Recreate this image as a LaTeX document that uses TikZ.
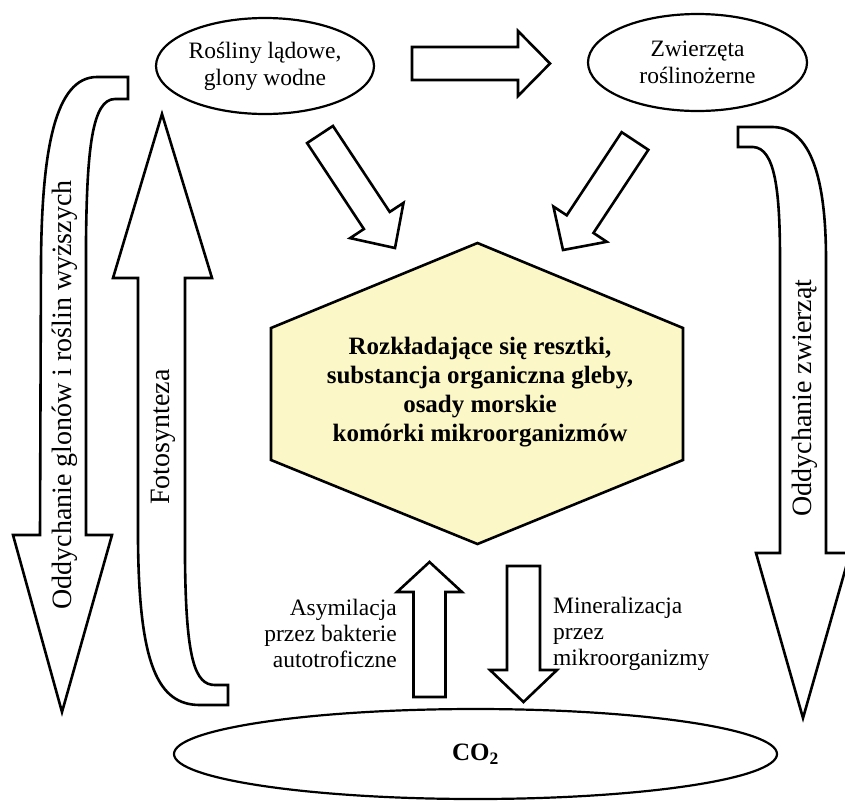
\documentclass[tikz,border=0pt]{standalone}
\usepackage{fontspec}
\setmainfont{Liberation Serif}
\usetikzlibrary{shapes.geometric,calc}

\definecolor{hexfill}{RGB}{251,247,199}

% tail, tip, half shaft, half head, head length
\newcommand{\fatarrow}[5]{%
  \coordinate (fa-base) at ($(#2)!#5!(#1)$);
  \draw[fat] ($(#1)!#3!90:(#2)$) -- ($(fa-base)!#3!90:(#2)$)
    -- ($(fa-base)!#4!90:(#2)$) -- (#2)
    -- ($(fa-base)!#4!-90:(#2)$) -- ($(fa-base)!#3!-90:(#2)$)
    -- ($(#1)!#3!-90:(#2)$) -- cycle;}

\begin{document}
\begin{tikzpicture}[x=1pt,y=-1pt,
    fat/.style={draw=black,fill=white,line width=2.6pt,line join=miter},
    oval/.style={ellipse,draw=black,line width=2.2pt,align=center,inner sep=0pt,
      font=\fontsize{23.5}{27}\selectfont},
    side/.style={rotate=90,inner sep=0pt,font=\fontsize{28}{32}\selectfont},
    small/.style={inner sep=0pt,font=\fontsize{23.5}{26}\selectfont}]
    \useasboundingbox (0,0) rectangle (845,801);

    \node[oval,minimum width=218,minimum height=96] (plants) at (265,66)
        {Rośliny lądowe,\\glony wodne};
    \node[oval,minimum width=219,minimum height=97] (herbivores) at (697.5,62.5)
        {Zwierzęta\\roślinożerne};
    \node[oval,minimum width=603,minimum height=90,font=\fontsize{25}{28}\selectfont\bfseries] (co2) at (475.5,754)
        {CO\textsubscript{2}};

    \draw[line width=2.6pt,fill=hexfill,line join=miter]
        (477.5,243) -- (683,328) -- (683,460) -- (477.5,544) -- (271,460) -- (271,328) -- cycle;
    \node[align=center,inner sep=0pt,font=\fontsize{25}{29}\selectfont\bfseries] (remains) at (480,392)
        {Rozkładające się resztki,\\substancja organiczna gleby,\\osady morskie\\komórki mikroorganizmów};

    \coordinate (eat-tail) at (412,63.5);
    \coordinate (eat-tip) at (550,63.5);
    \coordinate (pdie-tail) at (320,134.5);
    \coordinate (pdie-tip) at (395,248);
    \coordinate (hdie-tail) at (635,141);
    \coordinate (hdie-tip) at (563,250);
    \coordinate (asim-tail) at (429.5,697);
    \coordinate (asim-tip) at (429.5,562);
    \coordinate (mine-tail) at (523.5,566);
    \coordinate (mine-tip) at (523.5,702);

    \fatarrow{eat-tail}{eat-tip}{16.5pt}{32.5pt}{32pt}
    \fatarrow{pdie-tail}{pdie-tip}{15.5pt}{32pt}{33pt}
    \fatarrow{hdie-tail}{hdie-tip}{16pt}{32pt}{31pt}
    \fatarrow{asim-tail}{asim-tip}{16pt}{32.5pt}{30pt}
    \fatarrow{mine-tail}{mine-tip}{16.5pt}{33.5pt}{32pt}

    \draw[fat] (128,77) -- (97,77) .. controls (55,77) and (42,150) .. (41,260)
        -- (40,535) -- (13,535) -- (62,712) -- (112,535) -- (86,535) -- (86,240)
        .. controls (87,150) and (92,99) .. (115,99) -- (128,99) -- cycle;
    \draw[fat] (162,114) -- (212,278) -- (185,278) -- (185,560)
        .. controls (186,660) and (195,685) .. (215,685) -- (228,685) -- (228,705)
        -- (200,705) .. controls (158,705) and (139,665) .. (138,540) -- (138,278)
        -- (113,278) -- cycle;
    \draw[fat] (738,127) -- (773,127) .. controls (815,128) and (826,190) .. (826,260)
        -- (826,553) -- (850,553) -- (803,718) -- (756,553) -- (780,553) -- (780,260)
        .. controls (780,190) and (775,148) .. (753,147) -- (738,147) -- cycle;

    \node[side] (resp-plants) at (65,395) {Oddychanie glonów i roślin wyższych};
    \node[side] (photo) at (163,437) {Fotosynteza};
    \node[side] (resp-animals) at (805,398) {Oddychanie zwierząt};

    \node[small,anchor=east,align=right] (asim) at (397,633)
        {Asymilacja\\przez bakterie\\autotroficzne};
    \node[small,anchor=west,align=left] (mine) at (553,634)
        {Mineralizacja\\przez\\mikroorganizmy};
\end{tikzpicture}
\end{document}
